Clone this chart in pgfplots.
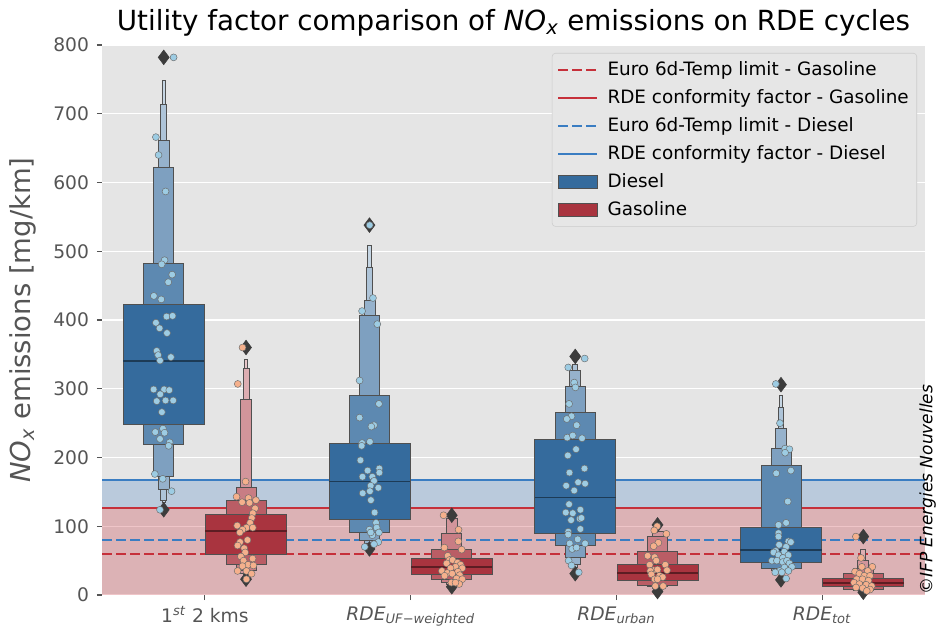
\documentclass[border=0pt]{standalone}
\usepackage{fontspec}
\setmainfont{DejaVu Sans}
\usepackage{pgfplots}
\pgfplotsset{compat=1.18}

\definecolor{bg}{HTML}{E5E5E5}
\definecolor{tickgray}{HTML}{555555}
\definecolor{dsl}{HTML}{356B9D}
\definecolor{gas}{HTML}{A9343F}
\definecolor{lred}{HTML}{C6303A}
\definecolor{lblue}{HTML}{3A7DC2}
\definecolor{boxedge}{HTML}{505050}
\definecolor{ptblue}{HTML}{9DCCE3}
\definecolor{ptorange}{HTML}{F5B08C}
\definecolor{legedge}{HTML}{CCCCCC}
\definecolor{outl}{HTML}{3C3C3C}

% one letter-value level: centre, half width, low, high, fill
\newcommand{\lv}[5]{%
  \pgfmathsetmacro\xa{#1-#2}%
  \pgfmathsetmacro\xb{#1+#2}%
  \addplot[forget plot, fill=#5, draw=boxedge, line width=0.6pt]
    coordinates {(\xa,#3) (\xb,#3) (\xb,#4) (\xa,#4)} -- cycle;
}
% median line: centre, value, colour
\newcommand{\med}[3]{%
  \pgfmathsetmacro\xa{#1-0.197}%
  \pgfmathsetmacro\xb{#1+0.197}%
  \addplot[forget plot, draw=#3, line width=1.3pt] coordinates {(\xa,#2) (\xb,#2)};
}

\begin{document}
\begin{tikzpicture}
\begin{axis}[
  scale only axis, width=617.25pt, height=412.5pt,
  xmin=-0.5, xmax=3.5, ymin=0, ymax=800,
  clip=false,
  axis background/.style={fill=bg},
  axis line style={draw=none},
  xtick={0,1,2,3},
  xticklabels={1\textsuperscript{\textit{st}} 2 kms,
    \textit{RDE}\textsubscript{\textit{UF}−\textit{weighted}},
    \textit{RDE}\textsubscript{\textit{urban}},
    \textit{RDE}\textsubscript{\textit{tot}}},
  ytick={0,100,...,800},
  tick pos=left, tick align=outside, major tick length=3.75pt,
  tick style={draw=tickgray, line width=0.8pt},
  ymajorgrids, grid style={white, line width=1.1pt},
  tick label style={font=\fontsize{14}{16}\selectfont, text=tickgray},
  yticklabel style={xshift=-2.5pt},
  xticklabel style={yshift=-1.5pt},
  /pgf/number format/assume math mode=true,
  ylabel={\textit{NO}\textsubscript{\textit{x}} emissions [mg/km]},
  ylabel style={font=\fontsize{20.6}{24}\selectfont, text=tickgray},
  ylabel shift=6pt,
  title={Utility factor comparison of \textit{NO}\textsubscript{\textit{x}} emissions on RDE cycles},
  title style={font=\fontsize{20.8}{24}\selectfont, yshift=-3pt},
  legend style={at={(0.9903,0.9855)}, anchor=north east, fill=bg!95!white,
    draw=legedge, rounded corners=2.5pt, inner xsep=4pt, inner ysep=4.5pt,
    font=\fontsize{13.8}{16}\selectfont, row sep=5pt,
    /tikz/every odd column/.append style={column sep=5pt}},
  legend cell align=left,
]

% limit zones
\addplot[forget plot, fill=lred, fill opacity=0.28, draw=none]
  coordinates {(-0.5,0) (3.5,0) (3.5,126) (-0.5,126)} -- cycle;
\addplot[forget plot, fill=lblue, fill opacity=0.25, draw=none]
  coordinates {(-0.5,126) (3.5,126) (3.5,168) (-0.5,168)} -- cycle;

% limit lines
\addplot[forget plot, lred, line width=1.5pt, dash pattern=on 7.3pt off 3.2pt] coordinates {(-0.5,60) (3.5,60)};
\addplot[forget plot, lred, line width=1.5pt] coordinates {(-0.5,126) (3.5,126)};
\addplot[forget plot, lblue, line width=1.5pt, dash pattern=on 7.3pt off 3.2pt] coordinates {(-0.5,80) (3.5,80)};
\addplot[forget plot, lblue, line width=1.5pt] coordinates {(-0.5,168) (3.5,168)};

% ---- 1st 2 kms
\lv{-0.2}{0.008}{134}{748}{dsl!28!white}
\lv{-0.2}{0.015}{138}{714}{dsl!40!white}
\lv{-0.2}{0.027}{154}{661}{dsl!52!white}
\lv{-0.2}{0.049}{172}{622}{dsl!64!white}
\lv{-0.2}{0.097}{219}{483}{dsl!80!white}
\lv{-0.2}{0.197}{248}{423}{dsl}
\med{-0.2}{340}{dsl!55!black}
\lv{0.2}{0.008}{28}{343}{gas!28!white}
\lv{0.2}{0.015}{30}{329}{gas!40!white}
\lv{0.2}{0.027}{32}{285}{gas!52!white}
\lv{0.2}{0.049}{36}{157}{gas!64!white}
\lv{0.2}{0.097}{44}{138}{gas!80!white}
\lv{0.2}{0.197}{59}{117}{gas}
\med{0.2}{93}{gas!55!black}

% ---- RDE UF-weighted
\lv{0.8}{0.008}{70}{508}{dsl!28!white}
\lv{0.8}{0.015}{72}{476}{dsl!40!white}
\lv{0.8}{0.027}{75}{428}{dsl!52!white}
\lv{0.8}{0.049}{80}{406}{dsl!64!white}
\lv{0.8}{0.097}{91}{291}{dsl!80!white}
\lv{0.8}{0.197}{110}{221}{dsl}
\med{0.8}{165}{dsl!55!black}
\lv{1.2}{0.027}{16}{111}{gas!52!white}
\lv{1.2}{0.049}{18}{90}{gas!64!white}
\lv{1.2}{0.097}{23}{67}{gas!80!white}
\lv{1.2}{0.197}{30}{53}{gas}
\med{1.2}{41}{gas!55!black}

% ---- RDE urban
\lv{1.8}{0.012}{40}{335}{dsl!40!white}
\lv{1.8}{0.027}{45}{327}{dsl!52!white}
\lv{1.8}{0.049}{54}{304}{dsl!64!white}
\lv{1.8}{0.097}{72}{266}{dsl!80!white}
\lv{1.8}{0.197}{89}{227}{dsl}
\med{1.8}{142}{dsl!55!black}
\lv{2.2}{0.027}{10}{92}{gas!52!white}
\lv{2.2}{0.049}{12}{85}{gas!64!white}
\lv{2.2}{0.097}{14.5}{63}{gas!80!white}
\lv{2.2}{0.197}{21}{44}{gas}
\med{2.2}{31.5}{gas!55!black}

% ---- RDE tot
\lv{2.8}{0.008}{30}{290}{dsl!28!white}
\lv{2.8}{0.013}{32}{273}{dsl!40!white}
\lv{2.8}{0.027}{34}{242}{dsl!52!white}
\lv{2.8}{0.049}{36}{213}{dsl!64!white}
\lv{2.8}{0.097}{38}{189}{dsl!80!white}
\lv{2.8}{0.197}{47.5}{99}{dsl}
\med{2.8}{66}{dsl!55!black}
\lv{3.2}{0.012}{5}{67}{gas!40!white}
\lv{3.2}{0.027}{6}{51}{gas!52!white}
\lv{3.2}{0.049}{7}{38}{gas!64!white}
\lv{3.2}{0.097}{8}{31.5}{gas!80!white}
\lv{3.2}{0.197}{12}{24}{gas}
\med{3.2}{18}{gas!55!black}

% outliers
\addplot[forget plot, only marks, mark=diamond*, mark size=5.5pt, color=outl]
  coordinates {(-0.2,782) (-0.2,124) (0.2,360) (0.2,23) (0.8,538) (0.8,67)
  (1.2,116) (1.2,12) (1.8,347) (1.8,31) (2.2,102) (2.2,5) (2.8,306) (2.8,22)
  (3.2,85) (3.2,4)};

% strip points, diesel
\addplot[forget plot, only marks, mark=*, mark size=2.6pt,
  mark options={fill=ptblue, draw=gray!85!black, line width=0.35pt}]
  coordinates {
  (-0.152,782) (-0.238,666) (-0.225,640) (-0.191,587) (-0.196,487) (-0.210,481)
  (-0.159,466) (-0.178,455) (-0.248,435) (-0.212,430) (-0.186,405) (-0.157,406)
  (-0.238,396) (-0.220,388) (-0.184,381) (-0.234,355) (-0.227,349) (-0.218,341)
  (-0.165,346) (-0.249,299) (-0.198,299) (-0.173,298) (-0.217,292) (-0.234,282)
  (-0.191,283) (-0.154,283) (-0.209,266) (-0.204,242) (-0.241,237) (-0.196,236)
  (-0.218,227) (-0.171,222) (-0.176,217) (-0.243,176) (-0.205,169) (-0.162,151)
  (-0.218,124)
  (0.801,538) (0.817,432) (0.764,413) (0.838,394) (0.752,312) (0.846,278)
  (0.752,258) (0.822,247) (0.809,245) (0.764,221) (0.802,223) (0.762,217)
  (0.756,196) (0.791,181) (0.848,184) (0.848,178) (0.766,172) (0.814,172)
  (0.822,166) (0.806,159) (0.843,156) (0.802,151) (0.767,148) (0.807,138)
  (0.825,120) (0.832,105) (0.835,98) (0.800,95) (0.846,91) (0.814,87)
  (0.806,91) (0.843,77) (0.822,74) (0.777,70)
  (1.846,344) (1.766,331) (1.795,309) (1.801,302) (1.770,278) (1.782,260)
  (1.759,256) (1.807,247) (1.761,229) (1.788,232) (1.833,228) (1.804,212)
  (1.764,203) (1.845,184) (1.772,178) (1.814,164) (1.848,162) (1.756,159)
  (1.795,152) (1.770,132) (1.754,120) (1.788,119) (1.825,124) (1.780,109)
  (1.822,111) (1.830,112) (1.825,96) (1.766,92) (1.766,88) (1.812,81)
  (1.848,75) (1.773,75) (1.785,67) (1.806,69) (1.768,50) (1.782,43) (1.817,33)
  (2.775,307) (2.795,250) (2.820,213) (2.841,212) (2.820,207) (2.777,177)
  (2.848,181) (2.833,136) (2.825,105) (2.788,102) (2.788,90) (2.788,85)
  (2.836,78) (2.791,73) (2.848,77) (2.825,70) (2.775,64) (2.816,63)
  (2.764,62) (2.788,58) (2.836,58) (2.809,54) (2.756,50) (2.780,50)
  (2.809,48) (2.829,50) (2.841,46) (2.853,41) (2.817,40) (2.793,35)
  (2.772,33) (2.804,33) (2.836,35) (2.825,24)
  };

% strip points, gasoline
\addplot[forget plot, only marks, mark=*, mark size=2.6pt,
  mark options={fill=ptorange, draw=gray!85!black, line width=0.35pt}]
  coordinates {
  (0.183,360) (0.160,307) (0.198,165) (0.154,143) (0.181,135) (0.212,141)
  (0.248,138) (0.217,134) (0.244,126) (0.233,119) (0.228,112) (0.220,105)
  (0.202,98) (0.233,98) (0.157,101) (0.183,95) (0.170,91) (0.207,80)
  (0.171,77) (0.159,72) (0.191,68) (0.196,62) (0.175,56) (0.232,53)
  (0.188,50) (0.210,44) (0.183,42) (0.236,43) (0.159,35) (0.202,35)
  (0.227,31) (0.202,23)
  (1.160,116) (1.233,95) (1.164,69) (1.232,78) (1.248,66) (1.180,57)
  (1.189,51) (1.204,51) (1.228,47) (1.175,46) (1.243,44) (1.218,41)
  (1.194,39) (1.251,39) (1.152,35) (1.230,34) (1.178,32) (1.202,31)
  (1.239,29) (1.165,28) (1.223,24) (1.251,23) (1.198,18) (1.236,16) (1.218,18)
  (2.198,100) (2.184,94) (2.243,89) (2.204,76) (2.181,71) (2.152,57)
  (2.186,55) (2.194,50) (2.162,44) (2.238,44) (2.181,36) (2.165,35)
  (2.200,37) (2.246,36) (2.170,30) (2.210,28) (2.225,26) (2.186,23)
  (2.200,23) (2.227,13) (2.189,13)
  (3.164,85) (3.189,54) (3.244,41) (3.193,41) (3.160,34) (3.222,35)
  (3.181,31) (3.205,28) (3.233,28) (3.168,23) (3.196,23) (3.225,21)
  (3.155,18) (3.181,16) (3.214,15) (3.241,13) (3.165,11) (3.197,10)
  (3.233,8) (3.217,6)
  };

% legend
\addlegendimage{legend image code/.code={\draw[lred, line width=1.5pt, dash pattern=on 7.3pt off 3.2pt] (0pt,0pt) -- (29pt,0pt);}}
\addlegendentry{Euro 6d-Temp limit - Gasoline}
\addlegendimage{legend image code/.code={\draw[lred, line width=1.5pt] (0pt,0pt) -- (29pt,0pt);}}
\addlegendentry{RDE conformity factor - Gasoline}
\addlegendimage{legend image code/.code={\draw[lblue, line width=1.5pt, dash pattern=on 7.3pt off 3.2pt] (0pt,0pt) -- (29pt,0pt);}}
\addlegendentry{Euro 6d-Temp limit - Diesel}
\addlegendimage{legend image code/.code={\draw[lblue, line width=1.5pt] (0pt,0pt) -- (29pt,0pt);}}
\addlegendentry{RDE conformity factor - Diesel}
\addlegendimage{legend image code/.code={\draw[sharp corners, fill=dsl, draw=boxedge, line width=0.6pt] (0pt,-5pt) rectangle (29pt,5pt);}}
\addlegendentry{Diesel}
\addlegendimage{legend image code/.code={\draw[sharp corners, fill=gas, draw=boxedge, line width=0.6pt] (0pt,-5pt) rectangle (29pt,5pt);}}
\addlegendentry{Gasoline}

\node[rotate=90, anchor=south west, inner sep=0pt, font=\itshape\fontsize{12.75}{15}\selectfont]
  at (rel axis cs:1.0135,0) {©IFP Energies Nouvelles};
\end{axis}
\pgfresetboundingbox
\path[use as bounding box] ([xshift=-76.5pt, yshift=-28.5pt]current axis.south west)
  rectangle ([xshift=11.25pt, yshift=33.75pt]current axis.north east);
\end{tikzpicture}
\end{document}
